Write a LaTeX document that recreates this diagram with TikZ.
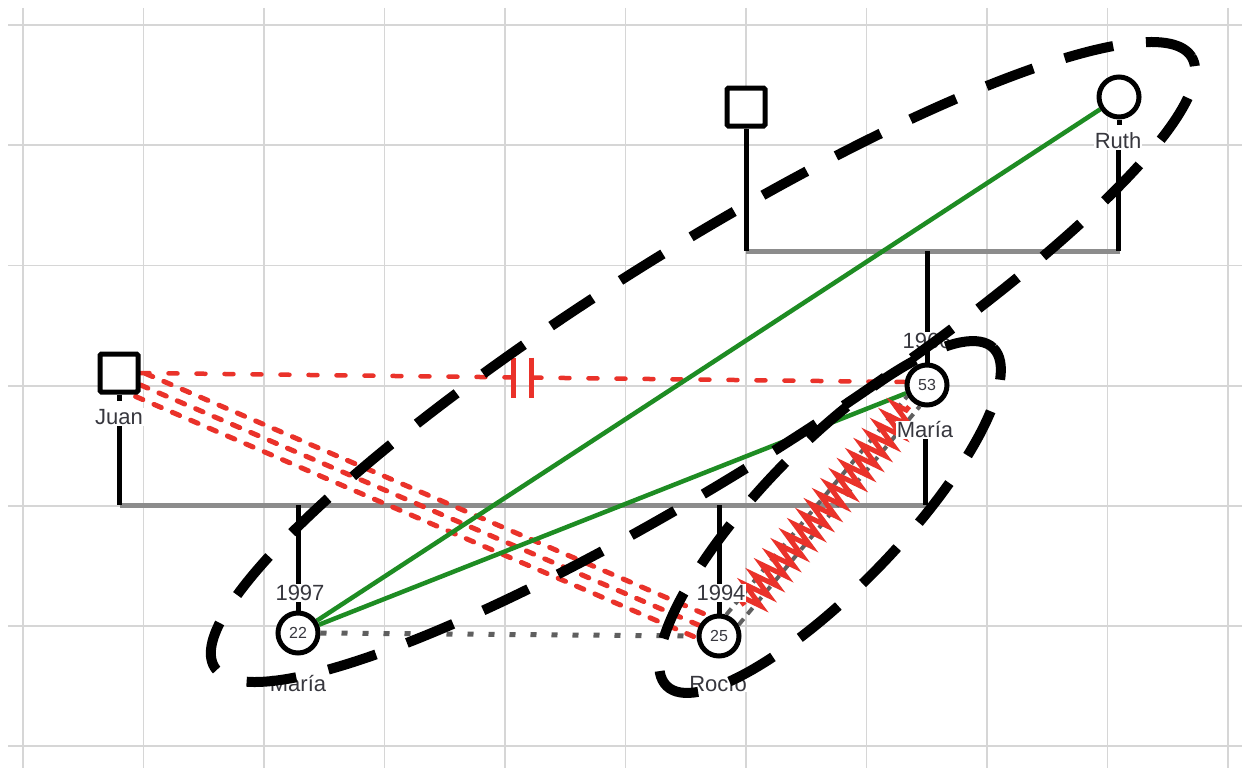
\documentclass[tikz,border=0pt]{standalone}
\usepackage{fontspec}
\setmainfont{Liberation Sans}
\usetikzlibrary{calc,decorations.pathmorphing}
\definecolor{gridgray}{RGB}{214,214,214}
\definecolor{bargray}{RGB}{140,140,140}
\definecolor{relred}{RGB}{234,50,42}
\definecolor{relgreen}{RGB}{30,140,35}
\definecolor{dotgray}{RGB}{95,95,95}
\definecolor{txtgray}{RGB}{55,55,62}
\pgfdeclarelayer{bg}
\pgfdeclarelayer{fg}
\pgfsetlayers{bg,main,fg}
\begin{document}
\begin{tikzpicture}[x=1pt,y=-1pt,
  gridline/.style={draw=gridgray,line width=1.8pt},
  kin/.style={draw=black,line width=5pt},
  bar/.style={draw=bargray,line width=5pt},
  male/.style={rectangle,draw=black,line width=5pt,fill=white,minimum size=38pt,inner sep=0pt,rounded corners=1.5pt},
  female/.style={circle,draw=black,line width=5pt,fill=white,minimum size=40pt,inner sep=0pt,
                 font=\fontsize{16}{18}\selectfont,text=txtgray},
  lbl/.style={fill=white,inner sep=1pt,text=txtgray,font=\fontsize{22}{24}\selectfont},
  hostile/.style={draw=relred,line width=5pt,line cap=round,dash pattern=on 8pt off 12pt},
  cutoff/.style={draw=relred,line width=4.5pt,line cap=round,dash pattern=on 9pt off 19pt},
  cutbar/.style={draw=relred,line width=5pt},
  close/.style={draw=relgreen,line width=4.5pt},
  distant/.style={draw=dotgray,line width=5pt,dash pattern=on 6pt off 15pt},
  abusepath/.style={draw=relred,line width=5pt,decorate,
                 decoration={zigzag,segment length=13pt,amplitude=13pt}},
  abuserail/.style={draw=dotgray,line width=4pt,dash pattern=on 8pt off 6pt},
  group/.style={draw=black,line width=10pt,dash pattern=on 50pt off 33pt}]

\useasboundingbox (0,0) rectangle (1242,768);

% individuals
\node[male] (sqtop) at (746,107) {};
\node[female] (ruth) at (1119,97) {};
\node[lbl] (ruthlbl) at (1118,141) {Ruth};
\node[male] (juan) at (119,373) {};
\node[lbl] (juanlbl) at (119,417) {Juan};
\node[female] (m53) at (927,385) {53};
\node[lbl] (m53lbl) at (925,430) {María};
\node[lbl] (y66) at (927,341) {1966};
\node[female] (m22) at (298,633) {22};
\node[lbl] (m22lbl) at (298,683) {María};
\node[lbl] (y97) at (300,593) {1997};
\node[female] (r25) at (719,636) {25};
\node[lbl] (r25lbl) at (718,683) {Rocío};
\node[lbl] (y94) at (721,593) {1994};

% family bars
\coordinate (tbL) at (746,251);
\coordinate (tbR) at (1120,251);
\coordinate (bbL) at (120,505);
\coordinate (bbR) at (927,505);

\begin{pgfonlayer}{bg}
  \fill[white] (0,0) rectangle (1242,768);
  % background grid
  \foreach \k in {0,...,10}
    \draw[gridline] ({23+120.5*\k},8) -- ({23+120.5*\k},768);
  \foreach \k in {0,...,6}
    \draw[gridline] (8,{25+120.2*\k}) -- (1242,{25+120.2*\k});

  % marriages and descent
  \draw[bar] (tbL) -- (tbR);
  \draw[bar] (bbL) -- (bbR);
  \draw[kin] (sqtop.south) -- (sqtop.south |- tbL);
  \draw[kin] (ruthlbl.south) -- (ruthlbl.south |- tbL);
  \draw[kin] (ruth.south) -- ++(0,5);
  \draw[kin] (m53.north) -- (m53.north |- tbL);
  \draw[kin] (juan.south) -- ++(0,6);
  \draw[kin] (juanlbl.south) -- (juanlbl.south |- bbL);
  \draw[kin] (m53lbl.south) -- (m53lbl.south |- bbL);
  \draw[kin] (m22.north) -- (m22.north |- bbL);
  \draw[kin] (r25.north) -- (r25.north |- bbL);

  % Juan -- María (53): cut-off
  \draw[cutoff] (juan.east) -- ($(m53.west)+(0,-3)$);
  \path (juan.east) -- ($(m53.west)+(0,-3)$) coordinate[pos=0.5] (cut);
  \draw[cutbar] ($(cut)+(-9,-20)$) -- ($(cut)+(-9,20)$);
  \draw[cutbar] ($(cut)+(9,-20)$) -- ($(cut)+(9,20)$);

  % Juan -- Rocío: hostile (triple line)
  \coordinate (hA) at ($(juan.east)+(0,12)$);
  \coordinate (hB) at ($(r25.west)+(2,-11)$);
  \draw[hostile] (hA) -- (hB);
  \draw[hostile] ($(hA)!12.5pt!90:(hB)$) -- ($(hB)!12.5pt!-90:(hA)$);
  \draw[hostile] ($(hA)!12.5pt!-90:(hB)$) -- ($(hB)!12.5pt!90:(hA)$);

  % close relations
  \draw[close] (ruth) -- (m22);
  \draw[close] (m53) -- (m22);

  % distant relation
  \draw[distant] (m22.east) -- (r25.west);

  % María (53) -- Rocío: abuse
  \coordinate (zA) at ($(r25)!21pt!(m53)$);
  \coordinate (zB) at ($(m53)!21pt!(r25)$);
  \draw[abuserail] ($(zA)!8pt!90:(zB)$) -- ($(zB)!8pt!-90:(zA)$);
  \draw[abuserail] ($(zA)!8pt!-90:(zB)$) -- ($(zB)!8pt!90:(zA)$);
  \draw[abusepath] ($(r25)!40pt!(m53)$) -- ($(r25)!298pt!(m53)$);
\end{pgfonlayer}

% groups
\begin{pgfonlayer}{fg}
  \draw[group,rotate around={32:(703,362)}] (703,362) ellipse [x radius=576pt,y radius=113pt];
  \draw[group,rotate around={46:(830,517)}] (830,517) ellipse [x radius=235pt,y radius=70pt];
\end{pgfonlayer}
\end{tikzpicture}
\end{document}
